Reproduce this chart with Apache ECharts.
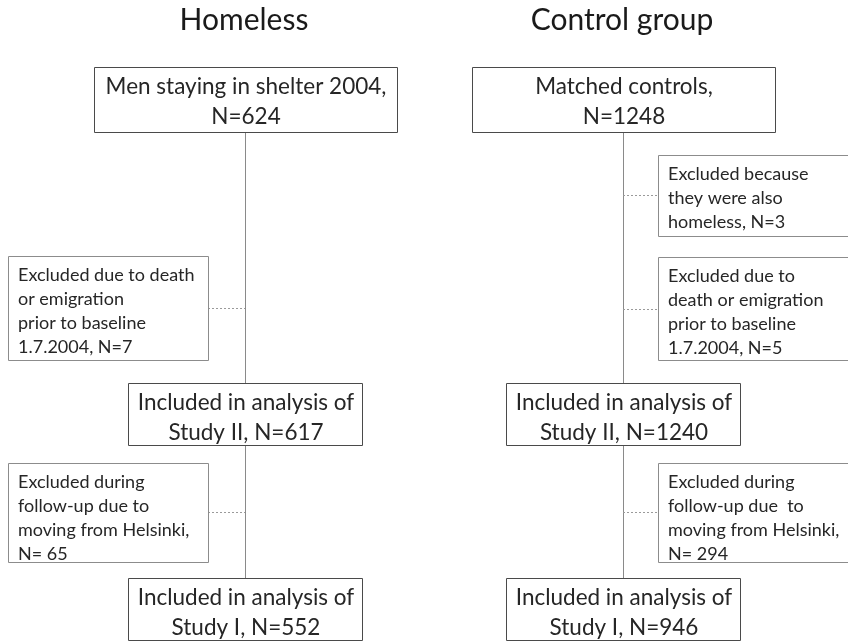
<!DOCTYPE html>
<html>
<head>
<meta charset="utf-8">
<script src="https://cdn.jsdelivr.net/npm/echarts@6/dist/echarts.min.js"></script>
<style>
  html, body { margin: 0; padding: 0; background: #fff; }
  #main { width: 848px; height: 643px; }
</style>
</head>
<body>
<div id="main"></div>
<script>
// data
const groups = ['Homeless', 'Control group'];
const startLabels = ['Men staying in shelter 2004,', 'Matched controls,'];
const startN = [624, 1248];
const study2N = [617, 1240];
const study1N = [552, 946];
const alsoHomelessN = [null, 3];
const deathN = [7, 5];
const movingN = [65, 294];

// layout
const colX = [245, 623];
const FONT = 'Lato, "Open Sans", sans-serif';
const mainW = [303, 234];
const exclX = [[8, 208], [658, 870]];
const textCol = '#262626';

let myChart = echarts.init(document.getElementById('main'));
let els = [];

function box(x0, y0, x1, y1, stroke) {
    els.push({
        type: 'rect', z: 2,
        shape: {x: x0 + 0.5, y: y0 + 0.5, width: x1 - x0, height: y1 - y0},
        style: {fill: '#fff', stroke: stroke, lineWidth: 1}
    });
}
function txt(str, x, y, size, lh, align) {
    els.push({
        type: 'text', z: 3,
        style: {
            text: str, x: x, y: y, fill: textCol,
            font: size + 'px ' + FONT, lineHeight: lh,
            textAlign: align, textVerticalAlign: 'top'
        }
    });
}
function vline(x, y0, y1) {
    els.push({
        type: 'line', z: 1,
        shape: {x1: x + 0.5, y1: y0, x2: x + 0.5, y2: y1},
        style: {stroke: '#8a8a8a', lineWidth: 1}
    });
}
function dotted(x0, x1, y) {
    els.push({
        type: 'line', z: 1,
        shape: {x1: x0, y1: y + 0.5, x2: x1, y2: y + 0.5},
        style: {stroke: '#9a9a9a', lineWidth: 1, lineDash: [2, 2]}
    });
}
function mainBox(i, w, y0, y1, lines) {
    let cx = colX[i];
    box(Math.round(cx - w / 2), y0, Math.round(cx + w / 2), y1, '#4a4a4a');
    txt(lines.join('\n'), cx + 1, y0 + 5, 22.5, 30, 'center');
}
function exclBox(i, y0, y1, yLine, lines) {
    let [x0, x1] = exclX[i];
    box(x0, y0, x1, y1, '#8c8c8c');
    txt(lines.join('\n'), x0 + 10, y0 + 7, 18, 24, 'left');
    if (i === 0) dotted(x1, colX[i], yLine);
    else dotted(colX[i], x0, yLine);
}

groups.forEach(function (g, i) {
    els.push({
        type: 'text', z: 3,
        style: {
            text: g, x: colX[i] - 1, y: 5, fill: '#1a1a1a',
            font: '30px ' + FONT, textAlign: 'center', textVerticalAlign: 'top'
        }
    });
    vline(colX[i], 132, 578);
    mainBox(i, mainW[0], 67, 132, [startLabels[i], 'N=' + startN[i]]);
    mainBox(i, mainW[1], 383, 445, ['Included in analysis of', 'Study II, N=' + study2N[i]]);
    mainBox(i, mainW[1], 578, 640, ['Included in analysis of', 'Study I, N=' + study1N[i]]);
    if (alsoHomelessN[i] != null) {
        exclBox(i, 155, 236, 195, ['Excluded because', 'they were also', 'homeless, N=' + alsoHomelessN[i]]);
    }
    let deathLines = i === 0
        ? ['Excluded due to death', 'or emigration', 'prior to baseline', '1.7.2004, N=' + deathN[i]]
        : ['Excluded due to', 'death or emigration', 'prior to baseline', '1.7.2004, N=' + deathN[i]];
    if (i === 0) exclBox(i, 256, 360, 308, deathLines);
    else exclBox(i, 257, 360, 309, deathLines);
    exclBox(i, 463, 562, 512, ['Excluded during', i === 0 ? 'follow-up due to' : 'follow-up due  to',
        'moving from Helsinki,', 'N= ' + movingN[i]]);
});

myChart.setOption({
    animation: false,
    backgroundColor: '#fff',
    graphic: {elements: els}
});
</script>
</body>
</html>
